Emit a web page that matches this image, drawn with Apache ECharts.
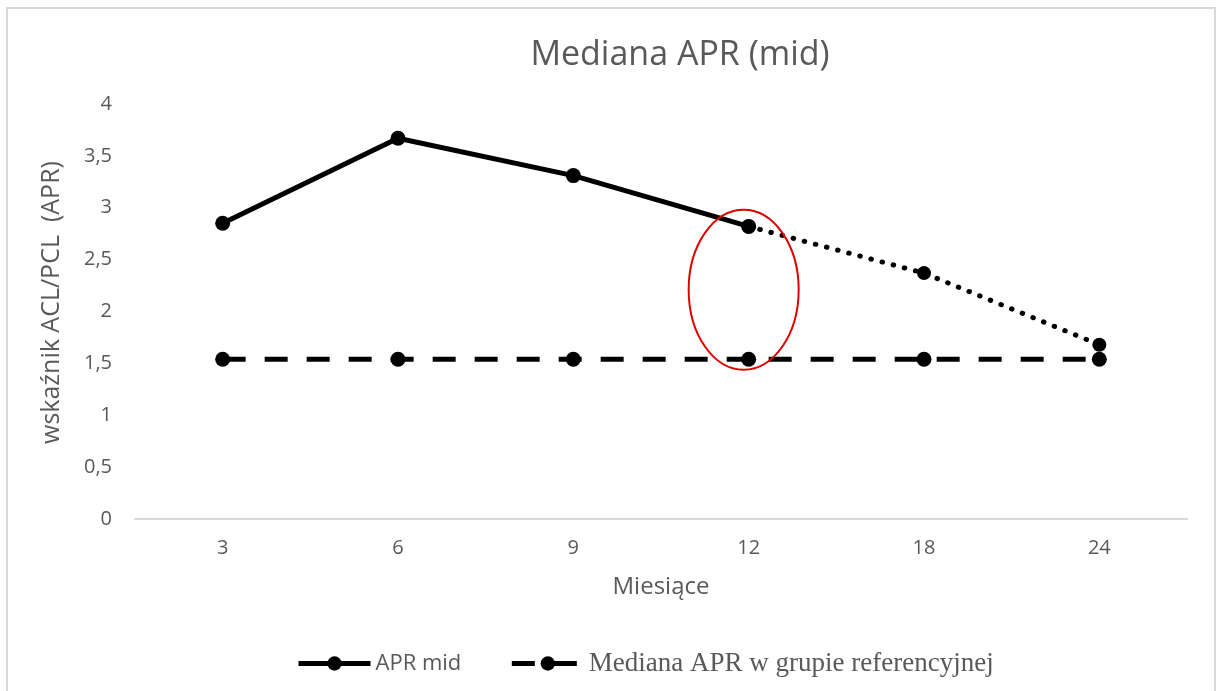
<!DOCTYPE html>
<html>
<head>
<meta charset="utf-8">
<script src="https://cdn.jsdelivr.net/npm/echarts@6/dist/echarts.min.js"></script>
<style>
  html, body { margin: 0; padding: 0; background: #fff; }
  #chart { width: 1216px; height: 691px; }
</style>
</head>
<body>
<div id="chart"></div>
<script>
// dane wykresu
const months = ['3', '6', '9', '12', '18', '24'];
const aprMid = [2.85, 3.67, 3.31, 2.82, null, null];
const aprMidForecast = [null, null, null, 2.82, 2.37, 1.68];
const referenceMedian = [1.54, 1.54, 1.54, 1.54, 1.54, 1.54];

const nameMid = 'APR mid';
const nameRef = 'Mediana APR w grupie referencyjnej';
const grey = '#595959';
const font = 'Open Sans';

const chart = echarts.init(document.getElementById('chart'));

const option = {
    animation: false,
    title: {
        text: 'Mediana APR (mid)',
        left: 675,
        top: 33,
        textAlign: 'center',
        textStyle: { fontFamily: font, fontSize: 34, fontWeight: 'normal', color: grey }
    },
    legend: {
        left: 291,
        top: 645,
        itemWidth: 72,
        itemHeight: 18,
        itemGap: 48,
        lineStyle: { width: 5 },
        data: [
            { name: nameMid, textStyle: { fontFamily: font, fontSize: 22, color: grey } },
            { name: nameRef, textStyle: { fontFamily: 'Liberation Serif', fontSize: 27, color: grey } }
        ]
    },
    grid: { left: 135, right: 29, top: 104, bottom: 172 },
    xAxis: {
        type: 'category',
        data: months,
        boundaryGap: true,
        name: 'Miesiące',
        nameLocation: 'middle',
        nameGap: 56,
        nameTextStyle: { fontFamily: font, fontSize: 24, color: grey },
        axisLine: { lineStyle: { color: '#d9d9d9', width: 2 } },
        axisTick: { show: false },
        axisLabel: { fontFamily: font, fontSize: 20, color: grey, margin: 19 }
    },
    yAxis: {
        type: 'value',
        min: 0,
        max: 4,
        interval: 0.5,
        name: 'wskaźnik ACL/PCL  (APR)',
        nameLocation: 'middle',
        nameGap: 71,
        nameTextStyle: { fontFamily: font, fontSize: 25, color: grey, padding: [0, 0, 0, 18] },
        splitLine: { show: false },
        axisLine: { show: false },
        axisTick: { show: false },
        axisLabel: {
            fontFamily: font, fontSize: 20, color: grey, margin: 23,
            formatter: v => String(v).replace('.', ',')
        }
    },
    series: [
        {
            name: nameMid,
            type: 'line',
            data: aprMid,
            symbol: 'circle',
            symbolSize: 15,
            itemStyle: { color: '#000' },
            lineStyle: { color: '#000', width: 5 },
            z: 3
        },
        {
            name: 'APR mid prognoza',
            type: 'line',
            data: aprMidForecast,
            symbol: 'circle',
            symbolSize: 14,
            itemStyle: { color: '#000' },
            lineStyle: { color: '#000', width: 5, type: [0.5, 11], cap: 'round' },
            z: 3
        },
        {
            name: nameRef,
            type: 'line',
            data: referenceMedian,
            symbol: 'circle',
            symbolSize: 15,
            itemStyle: { color: '#000' },
            lineStyle: { color: '#000', width: 5, type: [23, 19] },
            z: 2
        }
    ]
};

chart.setOption(option);

// czerwona elipsa wokol punktu 12 miesiecy
const c = chart.convertToPixel({ gridIndex: 0 }, ['12', 2.21]);
chart.setOption({
    graphic: [
        {
            type: 'rect',
            shape: { x: 7, y: 8, width: 1208, height: 700 },
            style: { fill: 'none', stroke: '#d9d9d9', lineWidth: 2 },
            silent: true
        },
        {
            type: 'ellipse',
            shape: { cx: c[0] - 5, cy: c[1], rx: 55, ry: 80 },
            style: { fill: 'none', stroke: '#e00000', lineWidth: 2 },
            z: 10
        }
    ]
});
</script>
</body>
</html>
